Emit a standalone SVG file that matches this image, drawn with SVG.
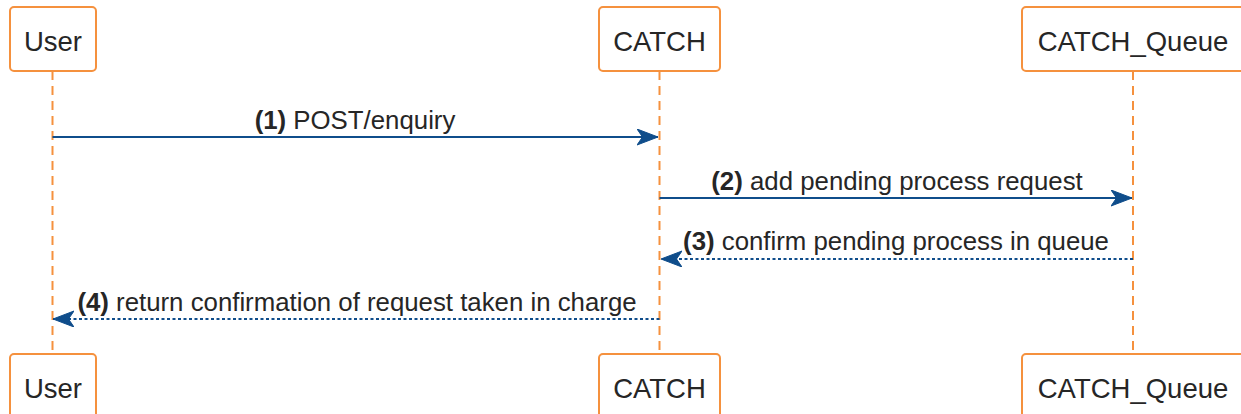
<svg xmlns="http://www.w3.org/2000/svg" width="1241" height="414" viewBox="0 0 1241 414">
<style>
.box{fill:#fff;stroke:#F5913E;stroke-width:2}
.life{stroke:#F5913E;stroke-width:2;stroke-dasharray:9 6;fill:none}
.nt{font-family:"Liberation Sans",Arial,sans-serif;font-size:27.5px;fill:#262626;text-anchor:middle}
.lt{font-family:"Liberation Sans",Arial,sans-serif;font-size:25.8px;fill:#262626;text-anchor:middle}
.lt tspan.b{font-weight:bold}
.msg{stroke:#0F4D8B;stroke-width:2;fill:none}
.ret{stroke:#0F4D8B;stroke-width:2;fill:none;stroke-dasharray:3 2.5}
</style>
<defs>
<marker id="arr" markerUnits="userSpaceOnUse" markerWidth="24" markerHeight="18" refX="21" refY="8" orient="auto" viewBox="0 0 24 18">
<path d="M0,0 L21,8 L0,16 L5.5,8 Z" fill="#0F4D8B" stroke="#0F4D8B" stroke-width="1" stroke-linejoin="miter"/>
</marker>
</defs>
<rect width="1241" height="414" fill="#fff"/>
<g id="lifelines">
<line class="life" x1="52.5" y1="71" x2="52.5" y2="354"/>
<line class="life" x1="659.5" y1="71" x2="659.5" y2="354"/>
<line class="life" x1="1133" y1="71" x2="1133" y2="354"/>
</g>
<g id="node-user-top"><rect class="box" x="10" y="7" width="86" height="64" rx="4"/><text class="nt" x="53" y="51">User</text></g>
<g id="node-catch-top"><rect class="box" x="599" y="7" width="121" height="64" rx="4"/><text class="nt" x="659.5" y="51">CATCH</text></g>
<g id="node-queue-top"><rect class="box" x="1022" y="7" width="222" height="64" rx="4"/><text class="nt" x="1133" y="51">CATCH_Queue</text></g>
<g id="node-user-bottom"><rect class="box" x="10" y="354" width="86" height="64" rx="4"/><text class="nt" x="53" y="398">User</text></g>
<g id="node-catch-bottom"><rect class="box" x="599" y="354" width="121" height="64" rx="4"/><text class="nt" x="659.5" y="398">CATCH</text></g>
<g id="node-queue-bottom"><rect class="box" x="1022" y="354" width="222" height="64" rx="4"/><text class="nt" x="1133" y="398">CATCH_Queue</text></g>
<g id="connectors">
<line class="msg" x1="52.5" y1="137" x2="658" y2="137" marker-end="url(#arr)"/>
<line class="msg" x1="659.5" y1="198" x2="1132" y2="198" marker-end="url(#arr)"/>
<line class="ret" x1="1133" y1="259" x2="661" y2="259" marker-end="url(#arr)"/>
<line class="ret" x1="659.5" y1="319" x2="53" y2="319" marker-end="url(#arr)"/>
<text class="lt" x="355" y="129"><tspan class="b">(1)</tspan> POST/enquiry</text>
<text class="lt" x="897" y="190"><tspan class="b">(2)</tspan> add pending process request</text>
<text class="lt" x="896" y="250"><tspan class="b">(3)</tspan> confirm pending process in queue</text>
<text class="lt" x="357" y="311"><tspan class="b">(4)</tspan> return confirmation of request taken in charge</text>
</g>
</svg>
